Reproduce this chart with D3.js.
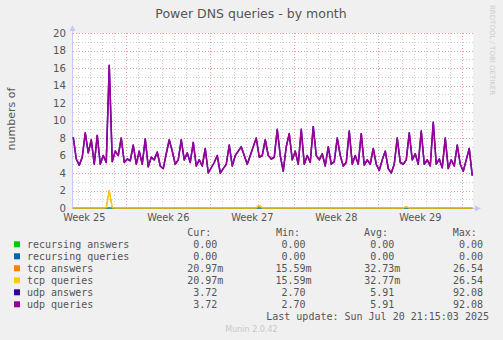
<!DOCTYPE html>
<html>
<head>
<meta charset="utf-8">
<script src="https://cdn.jsdelivr.net/npm/d3@7"></script>
<style>
  body { margin: 0; background: #f0f0f0; }
  svg { display: block; }
  text { white-space: pre; }
</style>
</head>
<body>
<script>
// 6-hourly samples, last one at Jul 20 19:45
const udpQueries = [
  8.1, 5.6, 4.9, 5.8, 8.6, 6.3, 7.8, 5.0, 8.3, 5.0,
  6.0, 5.2, 16.3, 5.3, 6.5, 6.0, 8.0, 5.2, 5.6, 5.4,
  7.2, 5.0, 6.5, 5.0, 7.9, 4.7, 5.8, 5.5, 6.4, 4.8,
  4.5, 6.2, 7.8, 6.5, 5.0, 5.5, 7.8, 5.5, 6.3, 5.2,
  7.5, 4.8, 5.5, 4.8, 6.8, 4.0, 4.6, 5.2, 6.0, 4.0,
  4.5, 5.0, 7.2, 4.8, 6.0, 6.5, 7.0, 6.0, 5.0, 6.0,
  7.0, 8.0, 5.8, 6.0, 7.8, 6.0, 5.6, 5.8, 9.0, 6.0,
  4.2, 7.0, 8.5, 5.5, 6.5, 5.0, 9.0, 5.0, 6.0, 5.2,
  9.3, 6.0, 5.5, 6.2, 4.8, 7.0, 5.0, 5.3, 8.0, 6.0,
  4.8, 5.2, 8.8, 5.0, 6.0, 5.0, 8.5, 4.9, 5.5, 5.0,
  6.8, 5.0, 4.3, 5.5, 6.5, 4.5, 4.0, 5.0, 8.0, 5.2,
  5.0, 5.5, 8.6, 5.5, 6.2, 5.0, 8.8, 5.0, 5.5, 4.8,
  9.8, 5.0, 5.6, 4.6, 8.0, 4.5, 5.5, 4.8, 7.2, 5.0,
  4.2, 5.5, 6.8, 3.7
]
const udpAnswers = udpQueries
const tcpQueries = [
  0.02, 0.02, 0.02, 0.02, 0.02, 0.02, 0.02, 0.02, 0.02, 0.02,
  0.02, 0.05, 2.00, 0.05, 0.02, 0.02, 0.02, 0.02, 0.02, 0.02,
  0.02, 0.02, 0.02, 0.02, 0.02, 0.02, 0.02, 0.02, 0.02, 0.02,
  0.02, 0.02, 0.02, 0.02, 0.02, 0.02, 0.02, 0.02, 0.02, 0.02,
  0.02, 0.02, 0.02, 0.02, 0.02, 0.02, 0.02, 0.02, 0.02, 0.02,
  0.02, 0.02, 0.02, 0.02, 0.02, 0.02, 0.02, 0.02, 0.02, 0.02,
  0.02, 0.02, 0.30, 0.02, 0.02, 0.02, 0.02, 0.02, 0.02, 0.02,
  0.02, 0.02, 0.02, 0.02, 0.02, 0.02, 0.02, 0.02, 0.02, 0.02,
  0.02, 0.02, 0.02, 0.02, 0.02, 0.02, 0.02, 0.02, 0.02, 0.02,
  0.02, 0.02, 0.02, 0.02, 0.02, 0.02, 0.02, 0.02, 0.02, 0.02,
  0.02, 0.02, 0.02, 0.02, 0.02, 0.02, 0.02, 0.02, 0.02, 0.02,
  0.02, 0.15, 0.02, 0.02, 0.02, 0.02, 0.02, 0.02, 0.02, 0.02,
  0.02, 0.02, 0.02, 0.02, 0.02, 0.02, 0.02, 0.02, 0.02, 0.02,
  0.02, 0.02, 0.02, 0.02
]
const tcpAnswers = tcpQueries
const recursing = udpQueries.map(() => 0)

const yTicks = [0, 2, 4, 6, 8, 10, 12, 14, 16, 18, 20]

const legendNames = ['recursing answers', 'recursing queries', 'tcp answers',
  'tcp queries', 'udp answers', 'udp queries']
const legendColors = ['#00cc00', '#0066b3', '#ff8000', '#ffcc00', '#330099', '#990099']
const curVals = ['0.00 ', '0.00 ', '20.97m', '20.97m', '3.72 ', '3.72 ']
const minVals = ['0.00 ', '0.00 ', '15.59m', '15.59m', '2.70 ', '2.70 ']
const avgVals = ['0.00 ', '0.00 ', '32.73m', '32.77m', '5.91 ', '5.91 ']
const maxVals = ['0.00 ', '0.00 ', '26.54 ', '26.54 ', '92.08 ', '92.08 ']

const graphEnd = new Date(2025, 6, 20, 21, 15)
const lastSample = new Date(2025, 6, 20, 19, 45)
const stepHours = 6

const W = 503, H = 340
const plot = { left: 73, right: 473, top: 33, bottom: 208 }
const sans = 'DejaVu Sans, sans-serif'
const mono = 'DejaVu Sans Mono, monospace'

const times = udpQueries.map((d, i) =>
  d3.timeHour.offset(lastSample, -(udpQueries.length - 1 - i) * stepHours))

const x = d3.scaleTime()
  .domain([d3.timeHour.offset(graphEnd, -800), graphEnd])
  .range([plot.left, plot.right])
const y = d3.scaleLinear()
  .domain([0, 20])
  .range([plot.bottom, plot.top])

const svg = d3.select('body').append('svg')
  .attr('width', W)
  .attr('height', H)

svg.append('rect').attr('width', W).attr('height', H).attr('fill', '#f0f0f0')
svg.append('rect')
  .attr('x', plot.left).attr('y', plot.top)
  .attr('width', plot.right - plot.left).attr('height', plot.bottom - plot.top)
  .attr('fill', '#fff')

// grid
const grid = svg.append('g').attr('shape-rendering', 'crispEdges')
const days = d3.timeDay.range(x.domain()[0], x.domain()[1])
const sundays = d3.timeSunday.range(x.domain()[0], x.domain()[1])
grid.selectAll('.vminor')
  .data(days.filter(d => d.getDay() !== 0)).enter()
  .append('line')
  .attr('x1', d => Math.round(x(d)) + 0.5).attr('x2', d => Math.round(x(d)) + 0.5)
  .attr('y1', plot.top).attr('y2', plot.bottom)
  .attr('stroke', '#d0d0d0').attr('stroke-dasharray', '1,2')
grid.selectAll('.hminor')
  .data(d3.range(1, 20, 2)).enter()
  .append('line')
  .attr('x1', plot.left).attr('x2', plot.right)
  .attr('y1', d => Math.round(y(d)) + 0.5).attr('y2', d => Math.round(y(d)) + 0.5)
  .attr('stroke', '#d0d0d0').attr('stroke-dasharray', '1,2')
grid.selectAll('.vmajor')
  .data(sundays).enter()
  .append('line')
  .attr('x1', d => Math.round(x(d)) + 0.5).attr('x2', d => Math.round(x(d)) + 0.5)
  .attr('y1', plot.top).attr('y2', plot.bottom)
  .attr('stroke', '#eaa0a0').attr('stroke-dasharray', '1,2')
grid.selectAll('.hmajor')
  .data(yTicks.slice(1)).enter()
  .append('line')
  .attr('x1', plot.left).attr('x2', plot.right)
  .attr('y1', d => Math.round(y(d)) + 0.5).attr('y2', d => Math.round(y(d)) + 0.5)
  .attr('stroke', '#eaa0a0').attr('stroke-dasharray', '1,2')

// y tick labels
svg.append('g').selectAll('text')
  .data(yTicks).enter()
  .append('text')
  .attr('x', 66).attr('y', d => y(d) + 3.5)
  .attr('text-anchor', 'end')
  .attr('font-family', sans).attr('font-size', 10.2).attr('fill', '#555')
  .text(String)

// week labels, centred in the week
const weekFmt = d3.timeFormat('Week %V')
svg.append('g').selectAll('text')
  .data(d3.timeSunday.range(d3.timeDay.offset(x.domain()[0], -7), x.domain()[1])
    .filter(d => { const c = x(d3.timeHour.offset(d, 84)); return c > plot.left && c < plot.right })).enter()
  .append('text')
  .attr('x', d => x(d3.timeHour.offset(d, 84)))
  .attr('y', 220.5)
  .attr('text-anchor', 'middle')
  .attr('font-family', sans).attr('font-size', 9.8).attr('fill', '#555')
  .text(d => weekFmt(d3.timeHour.offset(d, 84)))

// axes with arrows
const axisCol = '#c8c8f4'
svg.append('line')
  .attr('x1', plot.left - 0.5).attr('x2', plot.left - 0.5)
  .attr('y1', plot.bottom + 0.5).attr('y2', 28)
  .attr('stroke', axisCol)
svg.append('path')
  .attr('d', `M${plot.left - 3.5},31 L${plot.left - 0.5},25 L${plot.left + 2.5},31 Z`)
  .attr('fill', axisCol)
svg.append('line')
  .attr('x1', plot.left - 1).attr('x2', plot.right + 4)
  .attr('y1', plot.bottom + 0.5).attr('y2', plot.bottom + 0.5)
  .attr('stroke', axisCol)
svg.append('path')
  .attr('d', `M${plot.right + 2},${plot.bottom - 2.5} L${plot.right + 8},${plot.bottom + 0.5} L${plot.right + 2},${plot.bottom + 3.5} Z`)
  .attr('fill', axisCol)

// series
const line = d3.line()
  .x((d, i) => x(times[i]))
  .y(d => y(d))
const series = [recursing, recursing, tcpAnswers, tcpQueries, udpAnswers, udpQueries]
svg.append('g').selectAll('path')
  .data(series).enter()
  .append('path')
  .attr('d', line)
  .attr('fill', 'none')
  .attr('stroke', (d, i) => legendColors[i])
  .attr('stroke-width', (d, i) => i >= 4 ? 1.5 : 1.2)
  .attr('stroke-linejoin', 'round')

// titles
svg.append('text')
  .attr('x', 251).attr('y', 18)
  .attr('text-anchor', 'middle')
  .attr('font-family', sans).attr('font-size', 12.5).attr('fill', '#555')
  .text('Power DNS queries - by month')
svg.append('text')
  .attr('transform', 'translate(15,119) rotate(-90)')
  .attr('text-anchor', 'middle')
  .attr('font-family', sans).attr('font-size', 11).attr('fill', '#555')
  .text('numbers of')
svg.append('text')
  .attr('transform', 'translate(490,5) rotate(90)')
  .attr('font-family', sans).attr('font-size', 7).attr('fill', '#ccc')
  .text('RRDTOOL / TOBI OETIKER')

// legend
const legend = svg.append('g')
  .attr('font-family', mono).attr('font-size', 10).attr('fill', '#555')
const headers = [['Cur:', 187.3], ['Min:', 276], ['Avg:', 364], ['Max:', 452.7]]
legend.selectAll('.hdr')
  .data(headers).enter()
  .append('text')
  .attr('x', d => d[1]).attr('y', 235.8)
  .text(d => d[0])

const rows = legend.selectAll('.row')
  .data(legendNames).enter()
  .append('g')
  .attr('transform', (d, i) => `translate(0,${247.8 + i * 12})`)
rows.append('rect')
  .attr('x', 14).attr('y', -6.5)
  .attr('width', 6).attr('height', 6)
  .attr('fill', (d, i) => legendColors[i])
rows.append('text').attr('x', 27).text(d => d)
const cols = [[curVals, 223.3], [minVals, 311.5], [avgVals, 400.3], [maxVals, 489]]
cols.forEach(([vals, xr]) => {
  rows.append('text')
    .attr('x', xr)
    .attr('text-anchor', 'end')
    .text((d, i) => vals[i])
})
legend.append('text')
  .attr('x', 489).attr('y', 319.8)
  .attr('text-anchor', 'end')
  .text('Last update: Sun Jul 20 21:15:03 2025')

svg.append('text')
  .attr('x', 251.5).attr('y', 332)
  .attr('text-anchor', 'middle')
  .attr('font-family', sans).attr('font-size', 8).attr('fill', '#c8c8c8')
  .text('Munin 2.0.42')
</script>
</body>
</html>
